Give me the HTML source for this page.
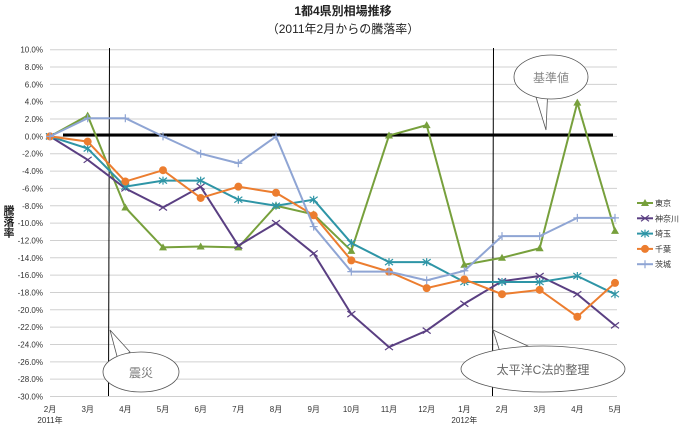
<!DOCTYPE html>
<html><head><meta charset="utf-8"><style>
body{margin:0;background:#fff;}
svg text{font-family:"Liberation Sans","Noto Sans CJK JP",sans-serif;}
</style></head><body>
<svg id="chart" width="686" height="426" viewBox="0 0 686 426" xmlns="http://www.w3.org/2000/svg">
<text x="343" y="15" text-anchor="middle" font-size="12" font-weight="bold" fill="#222">1都4県別相場推移</text>
<text x="343" y="33" text-anchor="middle" font-size="12" fill="#222">（2011年2月からの騰落率）</text>
<g id="grid"></g><g id="yticks"></g><g id="xticks"></g>
<text font-size="11" font-weight="bold" fill="#222" x="8" y="205" style="writing-mode:tb">騰落率</text>
<line x1="63" y1="135" x2="613" y2="135" stroke="#000" stroke-width="3"/>
<line x1="109.5" y1="48" x2="108.5" y2="396" stroke="#000" stroke-width="1"/>
<line x1="493.5" y1="48" x2="492.5" y2="396" stroke="#000" stroke-width="1"/>
<g id="series"></g>
<g>
<path d="M532,84 L546,130 L548,86 Z" fill="#fff" stroke="#555" stroke-width="0.8"/>
<ellipse cx="551" cy="77" rx="37" ry="22" fill="#fff" stroke="#555" stroke-width="0.8"/>
<rect x="528" y="82" width="40" height="6" fill="#fff"/>
<text x="551" y="82" text-anchor="middle" font-size="12" fill="#888">基準値</text>
</g>
<g>
<path d="M110,330 L130,352 L118,360 Z" fill="#fff" stroke="#555" stroke-width="0.8"/>
<ellipse cx="141" cy="372" rx="38" ry="20" fill="#fff" stroke="#555" stroke-width="0.8"/>
<text x="141" y="377" text-anchor="middle" font-size="12" fill="#777">震災</text>
</g>
<g>
<path d="M493,330 L530,347 L500,352 Z" fill="#fff" stroke="#555" stroke-width="0.8"/>
<ellipse cx="543" cy="369" rx="82" ry="23" fill="#fff" stroke="#555" stroke-width="0.8"/>
<text x="543" y="374" text-anchor="middle" font-size="12" fill="#666">太平洋C法的整理</text>
</g>
<g id="legend"></g>
</svg>
<script>
const months=["2月","3月","4月","5月","6月","7月","8月","9月","10月","11月","12月","1月","2月","3月","4月","5月"];
const yTicks=[10,8,6,4,2,0,-2,-4,-6,-8,-10,-12,-14,-16,-18,-20,-22,-24,-26,-28,-30];
const tokyo=[0,2.4,-8.2,-12.8,-12.7,-12.8,-8.0,-9.0,-13.2,0.1,1.3,-14.8,-14.0,-12.9,3.9,-10.9];
const kanagawa=[0,-2.7,-6.0,-8.2,-5.8,-12.6,-10.0,-13.5,-20.5,-24.3,-22.4,-19.3,-16.7,-16.1,-18.2,-21.8];
const saitama=[0,-1.4,-5.8,-5.1,-5.1,-7.3,-8.0,-7.3,-12.3,-14.5,-14.5,-16.8,-16.8,-16.8,-16.1,-18.2];
const chiba=[0,-0.6,-5.2,-3.9,-7.1,-5.8,-6.5,-9.1,-14.3,-15.6,-17.5,-16.5,-18.2,-17.7,-20.8,-16.9];
const ibaraki=[0,2.1,2.1,0,-2.0,-3.1,0,-10.4,-15.6,-15.6,-16.6,-15.5,-11.5,-11.5,-9.4,-9.4];
const seriesNames=["東京","神奈川","埼玉","千葉","茨城"];
const NS="http://www.w3.org/2000/svg";
const X0=50,X1=615,Y10=49.7,PER=8.67;
function xs(i){return X0+i*(X1-X0)/(months.length-1);}
function ys(v){return Y10+(10-v)*PER;}
function mk(tag,attrs,parent){const e=document.createElementNS(NS,tag);for(const k in attrs)e.setAttribute(k,attrs[k]);parent.appendChild(e);return e;}
const grid=document.getElementById('grid'),yt=document.getElementById('yticks'),xt=document.getElementById('xticks');
yTicks.forEach(v=>{
 const l=mk('line',{x1:X0,x2:617,y1:ys(v),y2:ys(v),stroke:'#d0d0d0','stroke-width':1},grid);
 
 
 const t=mk('text',{x:43,y:ys(v)+3,'text-anchor':'end','font-size':8,fill:'#333'},yt);
 t.textContent=v.toFixed(1)+'%';
 
 
});
months.forEach((m,i)=>{
 const t=mk('text',{x:xs(i),y:412,'text-anchor':'middle','font-size':8,fill:'#333'},xt);
 t.textContent=m;
 
 
});
[[0,"2011年"],[11,"2012年"]].forEach(([i,s])=>{
 const t=mk('text',{x:xs(i),y:423,'text-anchor':'middle','font-size':8,fill:'#333'},xt);
 t.textContent=s;
 
 
});
const colors=['#77a03c','#5a3f82','#2e95a6','#ec7d2f','#8fa5d4'];
const kinds=['tri','x','star','circle','plus'];
const datas=[tokyo,kanagawa,saitama,chiba,ibaraki];
const sg=document.getElementById('series'),lg=document.getElementById('legend');
function marker(kind,x,y,c,p){
 if(kind==='tri')return mk('path',{d:`M${x},${y-4}L${x+4},${y+3}L${x-4},${y+3}Z`,fill:c},p);
 if(kind==='circle')return mk('circle',{cx:x,cy:y,r:4,fill:c},p);
 if(kind==='x')return mk('path',{d:`M${x-4},${y-3}L${x+4},${y+3}M${x-4},${y+3}L${x+4},${y-3}`,stroke:c,'stroke-width':1.2},p);
 if(kind==='star')return mk('path',{d:`M${x-4},${y-3}L${x+4},${y+3}M${x-4},${y+3}L${x+4},${y-3}M${x},${y-4}L${x},${y+4}`,stroke:c,'stroke-width':1.2},p);
 return mk('path',{d:`M${x-4},${y}L${x+4},${y}M${x},${y-4}L${x},${y+4}`,stroke:c,'stroke-width':1.2},p);
}
datas.forEach((d,si)=>{
 const g=mk('g',{},sg);
 
 
 const pl=mk('polyline',{points:d.map((v,i)=>xs(i)+','+ys(v)).join(' '),fill:'none',stroke:colors[si],'stroke-width':2},g);
 
 
 d.forEach((v,i)=>{
  const m=marker(kinds[si],xs(i),ys(v),colors[si],g);
  
  
 });
 const ly=203+si*15.3;
 const le=mk('g',{},lg);
 
 
 mk('line',{x1:637,x2:653,y1:ly,y2:ly,stroke:colors[si],'stroke-width':2},le);
 marker(kinds[si],645,ly,colors[si],le);
 const t=mk('text',{x:655,y:ly+3,'font-size':8,fill:'#333'},le);
 t.textContent=seriesNames[si];
});
</script>
</body></html>
